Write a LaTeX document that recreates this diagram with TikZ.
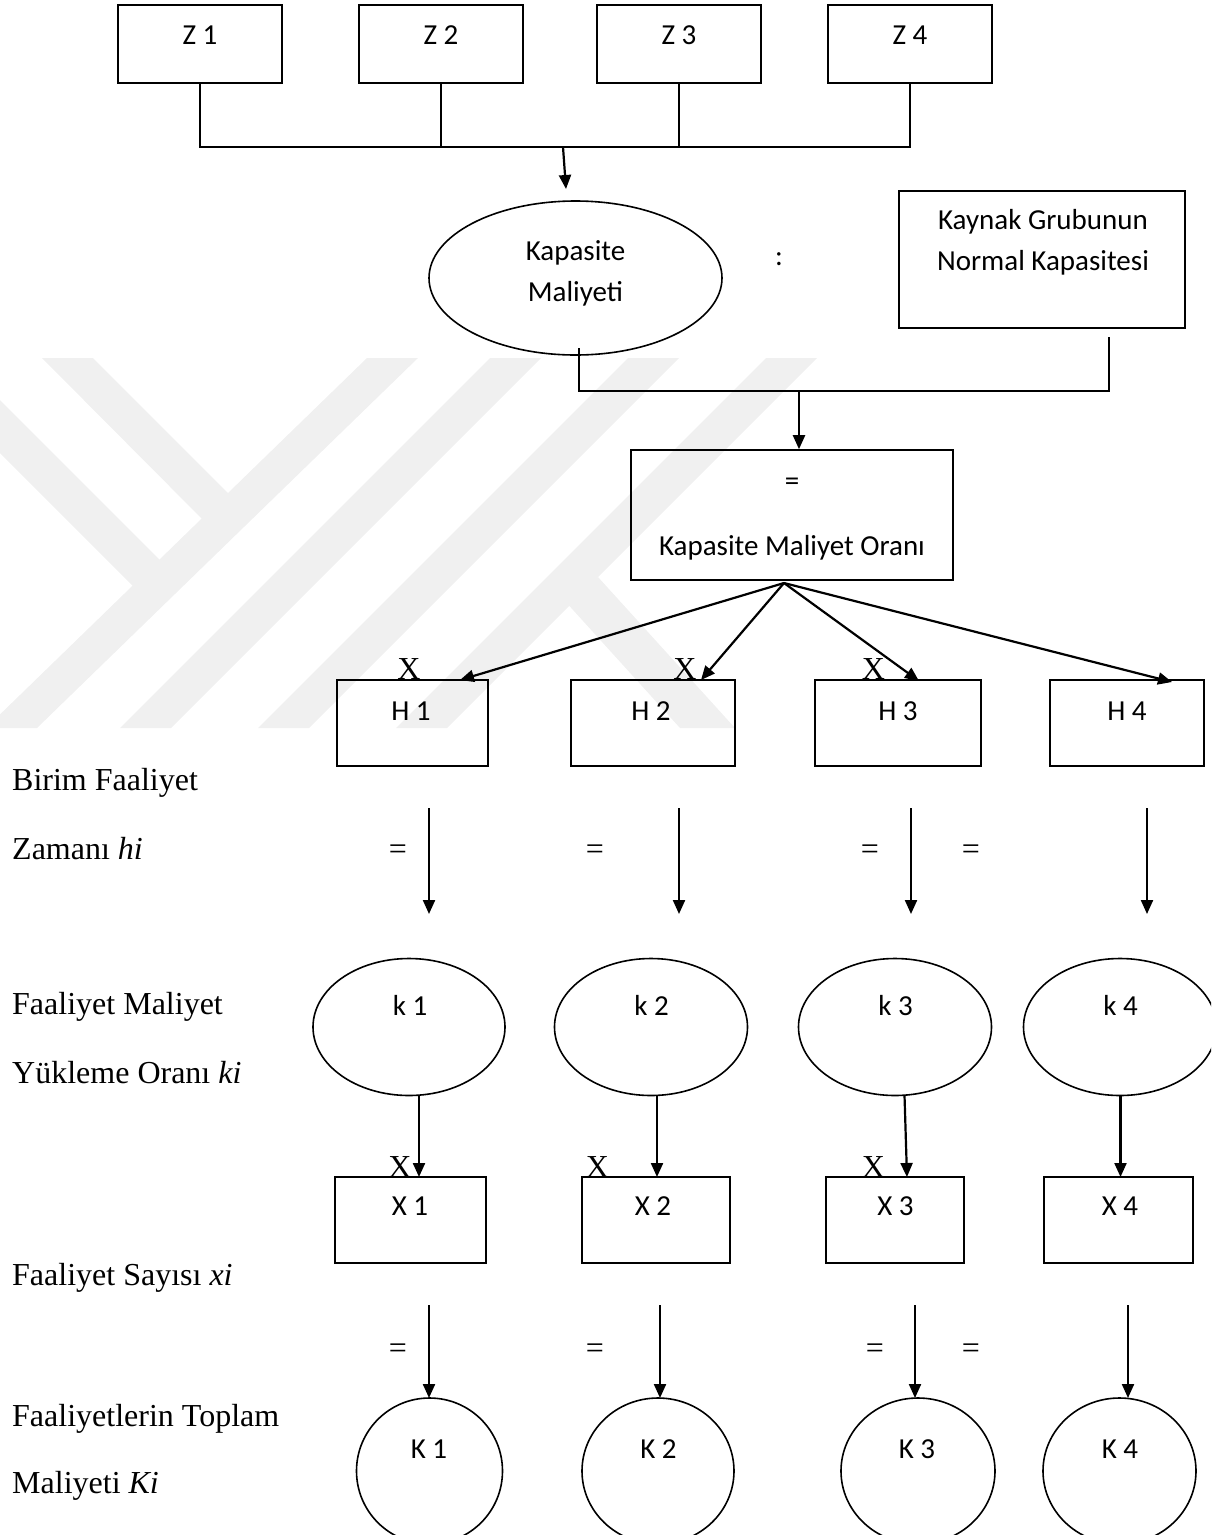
\documentclass[tikz,border=0pt]{standalone}
\usepackage{fontspec}
\setmainfont{Carlito}
\newfontfamily\tnrfont{Liberation Serif}
\usetikzlibrary{arrows.meta,shapes.geometric}
\definecolor{wm}{RGB}{240,240,240}
\tikzset{
  boxs/.style={draw, line width=1.6pt, inner sep=0pt, rectangle},
  ells/.style={draw, line width=1.6pt, inner sep=0pt, ellipse},
  ln/.style={line width=1.6pt},
  arr/.style={line width=2.2pt, -{Triangle[length=14pt,width=12pt]}},
  cal/.style={font=\fontsize{29}{34}\selectfont, inner sep=0pt, anchor=base},
  tnr/.style={font=\tnrfont\fontsize{32}{38}\selectfont, inner sep=0pt, anchor=base},
}
\begin{document}
\begin{tikzpicture}[x=1pt,y=-1pt]
\useasboundingbox (0,0) rectangle (1211,1535);
\begin{scope}
\clip (0,0) rectangle (1211,1535);
% watermark
\fill[wm] (367,358) -- (418,358) -- (37,728) -- (-14,728) -- cycle;
\fill[wm] (42,358) -- (93,358) -- (240,505) -- (214,531) -- cycle;
\fill[wm] (-20,380) -- (175,575) -- (150,603) -- (-20,433) -- cycle;
\fill[wm] (490,358) -- (541,358) -- (171,728) -- (120,728) -- cycle;
\fill[wm] (628,358) -- (679,358) -- (309,728) -- (258,728) -- cycle;
\fill[wm] (766,358) -- (817,358) -- (447,728) -- (396,728) -- cycle;
\fill[wm] (598,577) -- (735,728) -- (680,728) -- (564,600) -- cycle;

% Z boxes
\node[boxs, minimum width=164pt, minimum height=78pt] (z1) at (200,44) {};
\node[boxs, minimum width=164pt, minimum height=78pt] (z2) at (441,44) {};
\node[boxs, minimum width=164pt, minimum height=78pt] (z3) at (679,44) {};
\node[boxs, minimum width=164pt, minimum height=78pt] (z4) at (910,44) {};
\node[cal] (tz1) at (200,44.5) {Z 1};
\node[cal] (tz2) at (441,44.5) {Z 2};
\node[cal] (tz3) at (679,44.5) {Z 3};
\node[cal] (tz4) at (910,44.5) {Z 4};
\coordinate (bus) at (0,147);
\draw[ln] (z1.south) -- (z1.south |- bus) -- (z4.south |- bus) -- (z4.south);
\draw[ln] (z2.south) -- (z2.south |- bus);
\draw[ln] (z3.south) -- (z3.south |- bus);
\coordinate (a1s) at (563,147);
\coordinate (a1e) at (566,189);
\draw[arr] (a1s) -- (a1e);

% Kapasite Maliyeti ellipse and Kaynak box
\node[ells, minimum width=293pt, minimum height=154pt] (kap) at (575.5,278) {};
\node[cal] (tkap1) at (575.5,260) {Kapasite};
\node[cal] (tkap2) at (575.5,301) {Maliyeti};
\node[cal] (colon) at (779,265) {:};
\node[boxs, minimum width=286pt, minimum height=137pt] (kay) at (1042,259.5) {};
\node[cal] (tkay1) at (1043,229) {Kaynak Grubunun};
\node[cal] (tkay2) at (1043,270) {Normal Kapasitesi};
\coordinate (kapb) at (579,348);
\coordinate (kapbus) at (579,391);
\coordinate (kaybus) at (1109,391);
\coordinate (kayb) at (1109,337);
\draw[ln] (kapb) -- (kapbus) -- (kaybus) -- (kayb);

% Kapasite Maliyet Orani box
\node[boxs, minimum width=322pt, minimum height=130pt] (oran) at (792,515) {};
\node[cal] (teq) at (792,490) {=};
\node[cal] (toran) at (792,555) {Kapasite Maliyet Oranı};
\coordinate (kb) at (799,391);
\draw[arr] (kb) -- (kb |- oran.north);

% H boxes
\node[boxs, minimum width=151pt, minimum height=86pt] (h1) at (412.5,723) {};
\node[boxs, minimum width=164pt, minimum height=86pt] (h2) at (653,723) {};
\node[boxs, minimum width=166pt, minimum height=86pt] (h3) at (898,723) {};
\node[boxs, minimum width=154pt, minimum height=86pt] (h4) at (1127,723) {};
\node[cal] (th1) at (411,720) {H 1};
\node[cal] (th2) at (651,720) {H 2};
\node[cal] (th3) at (898,720) {H 3};
\node[cal] (th4) at (1127,720) {H 4};
\coordinate (od) at (784,583);
\coordinate (h1t) at (460,680);
\coordinate (h2t) at (701,680);
\coordinate (h3t) at (919,681);
\coordinate (h4t) at (1172,682);
\draw[arr] (od) -- (h1t);
\draw[arr] (od) -- (h2t);
\draw[arr] (od) -- (h3t);
\draw[arr] (od) -- (h4t);
\node[tnr] (xh1) at (409,679) {X};
\node[tnr] (xh2) at (685,679) {X};
\node[tnr] (xh3) at (873.5,679) {X};

% row 1 arrows
\foreach \n/\x in {1/429,2/679,3/911,4/1147}{
  \coordinate (ra\n) at (\x,808);
  \coordinate (rb\n) at (\x,914);
  \draw[arr] (ra\n) -- (rb\n);
}
\node[tnr] (eq11) at (398,859) {=};
\node[tnr] (eq12) at (595,859) {=};
\node[tnr] (eq13) at (870,859) {=};
\node[tnr] (eq14) at (971,859) {=};

% k ellipses
\node[ells, minimum width=192pt, minimum height=137pt] (k1) at (409,1027) {};
\node[ells, minimum width=193pt, minimum height=137pt] (k2) at (651,1027) {};
\node[ells, minimum width=193pt, minimum height=137pt] (k3) at (895,1027) {};
\node[ells, minimum width=193pt, minimum height=137pt] (k4) at (1120,1027) {};
\node[cal] (tk1) at (410,1015) {k 1};
\node[cal] (tk2) at (651.5,1015) {k 2};
\node[cal] (tk3) at (895.5,1015) {k 3};
\node[cal] (tk4) at (1120.5,1015) {k 4};

% X boxes
\node[boxs, minimum width=151pt, minimum height=86pt] (x1) at (410.5,1220) {};
\node[boxs, minimum width=148pt, minimum height=86pt] (x2) at (656,1220) {};
\node[boxs, minimum width=138pt, minimum height=86pt] (x3) at (895,1220) {};
\node[boxs, minimum width=149pt, minimum height=86pt] (x4) at (1118.5,1220) {};
\node[cal] (tx1) at (410,1215.5) {X 1};
\node[cal] (tx2) at (653,1215.5) {X 2};
\node[cal] (tx3) at (895.5,1215.5) {X 3};
\node[cal] (tx4) at (1120,1215.5) {X 4};
\coordinate (kx1a) at (419,1095);   \coordinate (kx1b) at (419,1177);
\coordinate (kx2a) at (657,1095);   \coordinate (kx2b) at (657,1177);
\coordinate (kx3a) at (904.5,1095); \coordinate (kx3b) at (907,1177);
\coordinate (kx4a) at (1120.5,1095);\coordinate (kx4b) at (1120.5,1177);
\draw[arr] (kx1a) -- (kx1b);
\draw[arr] (kx2a) -- (kx2b);
\draw[arr] (kx3a) -- (kx3b);
\draw[arr] (kx4a) -- (kx4b);
\node[tnr] (xk1) at (400,1177) {X};
\node[tnr] (xk2) at (597.5,1177) {X};
\node[tnr] (xk3) at (873.5,1177) {X};

% row 2 arrows
\foreach \n/\x in {1/429,2/660,3/915,4/1128}{
  \coordinate (sa\n) at (\x,1305);
  \coordinate (sb\n) at (\x,1398);
  \draw[arr] (sa\n) -- (sb\n);
}
\node[tnr] (eq21) at (398,1358) {=};
\node[tnr] (eq22) at (595,1358) {=};
\node[tnr] (eq23) at (875,1358) {=};
\node[tnr] (eq24) at (971,1358) {=};

% K ellipses (cut by the lower edge)
\node[ells, minimum width=146pt, minimum height=146pt] (bk1) at (429.5,1471) {};
\node[ells, minimum width=152pt, minimum height=146pt] (bk2) at (658,1471) {};
\node[ells, minimum width=154pt, minimum height=146pt] (bk3) at (918,1471) {};
\node[ells, minimum width=153pt, minimum height=146pt] (bk4) at (1119.5,1471) {};
\node[cal] (tbk1) at (429,1458) {K 1};
\node[cal] (tbk2) at (658.5,1458) {K 2};
\node[cal] (tbk3) at (917,1458) {K 3};
\node[cal] (tbk4) at (1120,1458) {K 4};

% left labels
\node[tnr, anchor=base west] (l1) at (12,790) {Birim Faaliyet};
\node[tnr, anchor=base west] (l2) at (12,859) {Zamanı \textit{hi}};
\node[tnr, anchor=base west] (l3) at (12,1014) {Faaliyet Maliyet};
\node[tnr, anchor=base west] (l4) at (12,1083) {Yükleme Oranı \textit{ki}};
\node[tnr, anchor=base west] (l5) at (12,1285) {Faaliyet Sayısı \textit{xi}};
\node[tnr, anchor=base west] (l6) at (12,1426) {Faaliyetlerin Toplam};
\node[tnr, anchor=base west] (l7) at (12,1493) {Maliyeti \textit{Ki}};
\end{scope}
\end{tikzpicture}
\end{document}
